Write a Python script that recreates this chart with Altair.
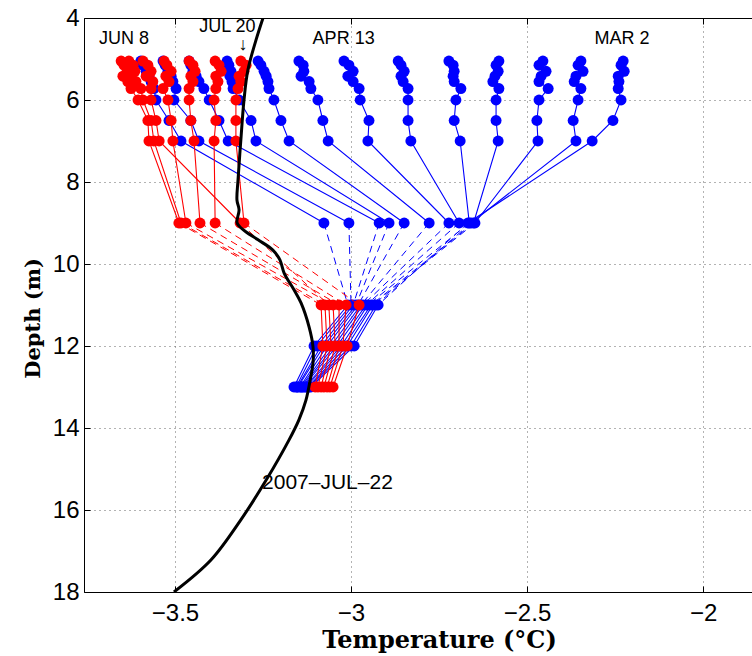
import altair as alt
import pandas as pd

# Sensor depths (m) shared by every mooring profile
DEPTHS = [5.05, 5.15, 5.3, 5.42, 5.55, 5.72, 6.0, 6.5, 7.0, 9.0, 11.0, 12.0, 13.0]

# Earlier profiles, MAR 2 first (temperature in deg C at each depth above)
BLUE_PROFILES = [
    [-2.227, -2.233, -2.224, -2.241, -2.239, -2.241, -2.233, -2.256, -2.315, -2.668, -2.923, -2.991, -3.114],
    [-2.347, -2.355, -2.341, -2.361, -2.366, -2.347, -2.355, -2.369, -2.361, -2.659, -2.929, -3.000, -3.119],
    [-2.455, -2.466, -2.446, -2.460, -2.466, -2.440, -2.466, -2.472, -2.469, -2.648, -2.938, -3.011, -3.122],
    [-2.580, -2.588, -2.582, -2.591, -2.597, -2.580, -2.588, -2.588, -2.582, -2.652, -2.943, -3.020, -3.128],
    [-2.722, -2.710, -2.707, -2.710, -2.707, -2.688, -2.702, -2.707, -2.690, -2.664, -2.952, -3.028, -3.131],
    [-2.866, -2.858, -2.849, -2.858, -2.852, -2.838, -2.838, -2.838, -2.830, -2.693, -2.957, -3.040, -3.136],
    [-3.020, -3.006, -2.994, -3.009, -2.994, -2.977, -2.974, -2.949, -2.952, -2.722, -2.966, -3.048, -3.139],
    [-3.148, -3.136, -3.134, -3.142, -3.119, -3.114, -3.094, -3.080, -3.065, -2.778, -2.972, -3.057, -3.142],
    [-3.264, -3.256, -3.247, -3.241, -3.236, -3.233, -3.219, -3.199, -3.176, -2.849, -2.980, -3.068, -3.145],
    [-3.352, -3.347, -3.341, -3.344, -3.338, -3.335, -3.318, -3.284, -3.270, -2.892, -2.986, -3.077, -3.151],
    [-3.460, -3.455, -3.449, -3.440, -3.432, -3.418, -3.403, -3.375, -3.349, -2.920, -2.994, -3.085, -3.153],
    [-3.534, -3.528, -3.520, -3.511, -3.506, -3.497, -3.503, -3.455, -3.432, -3.006, -3.000, -3.097, -3.156],
    [-3.597, -3.591, -3.582, -3.574, -3.568, -3.560, -3.554, -3.517, -3.483, -3.077, -3.009, -3.105, -3.162],
]

# Later profiles, JUN 8 through JUL 20
RED_PROFILES = [
    [-3.653, -3.645, -3.636, -3.648, -3.634, -3.625, -3.605, -3.577, -3.574, -3.489, -3.085, -3.080, -3.102],
    [-3.631, -3.619, -3.614, -3.625, -3.611, -3.597, -3.591, -3.568, -3.560, -3.483, -3.074, -3.068, -3.094],
    [-3.591, -3.577, -3.568, -3.582, -3.563, -3.568, -3.568, -3.554, -3.545, -3.315, -3.063, -3.057, -3.085],
    [-3.531, -3.523, -3.511, -3.526, -3.517, -3.534, -3.520, -3.511, -3.506, -3.469, -3.051, -3.045, -3.077],
    [-3.460, -3.449, -3.443, -3.455, -3.449, -3.460, -3.460, -3.455, -3.446, -3.429, -3.034, -3.034, -3.068],
    [-3.386, -3.375, -3.369, -3.384, -3.378, -3.384, -3.389, -3.384, -3.389, -3.386, -3.014, -3.023, -3.060],
    [-3.313, -3.298, -3.304, -3.318, -3.313, -3.321, -3.327, -3.327, -3.327, -3.304, -2.977, -3.011, -3.051],
]

# Continuous cast of 2007-JUL-22
CAST_DEPTH = [4.0, 4.54, 5.27, 6.0, 6.98, 7.95, 8.44, 8.68, 8.98, 9.07, 9.22, 9.41, 9.66,
              9.90, 10.22, 10.63, 10.95, 11.54, 12.02, 12.41, 12.83, 13.32, 13.80, 14.29,
              15.27, 16.24, 17.22, 18.0]
CAST_TEMP = [-3.250, -3.270, -3.293, -3.304, -3.313, -3.321, -3.324, -3.318, -3.324, -3.318,
             -3.298, -3.264, -3.222, -3.202, -3.190, -3.162, -3.142, -3.119, -3.108, -3.108,
             -3.116, -3.128, -3.148, -3.176, -3.241, -3.313, -3.398, -3.503]

# Date annotations
NOTE_TEXT = ["JUN 8", "JUL 20", "↓", "APR 13", "MAR 2"]
NOTE_TEMP = [-3.645, -3.351, -3.307, -3.021, -2.230]
NOTE_DEPTH = [4.50, 4.21, 4.67, 4.50, 4.50]
CAST_NOTE = "2007–JUL–22"
CAST_NOTE_TEMP = -3.067
CAST_NOTE_DEPTH = 15.35

X_TICKS = [-3.5, -3.0, -2.5, -2.0]
Y_TICKS = [4, 6, 8, 10, 12, 14, 16, 18]

BLUE = "#0000ff"
RED = "#ff0000"
SANS = "Liberation Sans"
SERIF = "DejaVu Serif"


def long_frame(profiles, prefix):
    rows = []
    for k, temps in enumerate(profiles):
        for d, t in zip(DEPTHS, temps):
            seg = "upper" if d <= 9 else "lower"
            rows.append({"profile": f"{prefix}{k}", "line": f"{prefix}{k}-{seg}",
                         "depth": d, "temp": t})
    return pd.DataFrame(rows)


blue_df = long_frame(BLUE_PROFILES, "b")
red_df = long_frame(RED_PROFILES, "r")
cast_df = pd.DataFrame({"depth": CAST_DEPTH, "temp": CAST_TEMP, "i": range(len(CAST_DEPTH))})
notes_df = pd.DataFrame({"text": NOTE_TEXT, "temp": NOTE_TEMP, "depth": NOTE_DEPTH})
cast_note_df = pd.DataFrame({"text": [CAST_NOTE], "temp": [CAST_NOTE_TEMP], "depth": [CAST_NOTE_DEPTH]})

XS = alt.Scale(domain=[-3.7585, -1.861], nice=False, zero=False)
YS = alt.Scale(domain=[4, 18], reverse=True, nice=False, zero=False)

GRID = dict(grid=True, gridDash=[1, 4], gridColor="#666666", gridWidth=1, gridOpacity=1)

x_main = alt.Axis(orient="bottom", values=X_TICKS, format=".1~f", ticks=False,
                  domain=True, domainColor="black", domainWidth=1,
                  labelFont=SANS, labelFontSize=24, labelColor="black", labelPadding=9,
                  title="Temperature (°C)", titleFont=SERIF, titleFontWeight="bold",
                  titleFontSize=24, titleColor="black", titlePadding=3, titleX=355,
                  **GRID)
y_main = alt.Axis(orient="left", values=Y_TICKS, format="d", ticks=False,
                  domain=True, domainColor="black", domainWidth=1,
                  labelFont=SANS, labelFontSize=24, labelColor="black", labelPadding=5,
                  title="Depth (m)", titleFont=SERIF, titleFontWeight="bold",
                  titleFontSize=21, titleColor="black", titlePadding=9, titleY=300,
                  **GRID)
# inward ticks: axes pulled inside the frame by their own tick length
x_ticks_bottom = alt.Axis(orient="bottom", values=X_TICKS, offset=-6, tickSize=6,
                          tickColor="black", labels=False, domain=False, grid=False,
                          title=None, zindex=1)
y_ticks_left = alt.Axis(orient="left", values=Y_TICKS, offset=-6, tickSize=6,
                        tickColor="black", labels=False, domain=False, grid=False,
                        title=None, zindex=1)
x_top_line = alt.Axis(orient="top", ticks=False, labels=False, domain=True,
                      domainColor="black", domainWidth=1, grid=False, title=None, zindex=1)
x_ticks_top = alt.Axis(orient="top", values=X_TICKS, offset=-6, tickSize=6,
                       tickColor="black", labels=False, domain=False, grid=False,
                       title=None, zindex=1)


def enc_x(axis):
    return alt.X("temp:Q", scale=XS, axis=axis)


def enc_y(axis):
    return alt.Y("depth:Q", scale=YS, axis=axis)


def solid_lines(df, color, xa, ya):
    return alt.Chart(df).mark_line(color=color, strokeWidth=1.1, clip=True).encode(
        x=enc_x(xa), y=enc_y(ya), detail="line:N", order="depth:Q")


def dashed_lines(df, color, xa, ya):
    gap = df[df["depth"].isin([9.0, 11.0])]
    return alt.Chart(gap).mark_line(color=color, strokeWidth=1.0, strokeDash=[7, 5],
                                    clip=True).encode(
        x=enc_x(xa), y=enc_y(ya), detail="profile:N", order="depth:Q")


def dots(df, color, xa, ya):
    return alt.Chart(df).mark_circle(color=color, size=120, opacity=1, clip=True).encode(
        x=enc_x(xa), y=enc_y(ya))


blue_solid = solid_lines(blue_df, BLUE, x_main, y_main)
blue_dash = dashed_lines(blue_df, BLUE, x_ticks_bottom, y_ticks_left)
blue_dots = dots(blue_df, BLUE, x_top_line, None)
red_solid = solid_lines(red_df, RED, x_ticks_top, None)
red_dash = dashed_lines(red_df, RED, None, None)
red_dots = dots(red_df, RED, None, None)

cast = alt.Chart(cast_df).mark_line(color="black", strokeWidth=3, clip=True,
                                    interpolate="catmull-rom").encode(
    x=enc_x(None), y=enc_y(None), order="i:Q")

notes = alt.Chart(notes_df).mark_text(font=SANS, fontSize=18, color="black",
                                      align="center", baseline="middle").encode(
    x=enc_x(None), y=enc_y(None), text="text:N")
cast_note = alt.Chart(cast_note_df).mark_text(font=SANS, fontSize=21, color="black",
                                              align="center", baseline="middle").encode(
    x=enc_x(None), y=enc_y(None), text="text:N")

chart = alt.layer(
    blue_solid, blue_dash, blue_dots, red_solid, red_dash, red_dots, cast, notes, cast_note
).resolve_axis(
    x="independent", y="independent"
).properties(
    width=668, height=574,
    autosize=alt.AutoSizeParams(type="none"),
    padding={"left": 84, "top": 18, "right": 0, "bottom": 64},
    background="white",
).configure_view(stroke="transparent")

chart.save("out.html", embed_options={"renderer": "svg", "actions": False})
